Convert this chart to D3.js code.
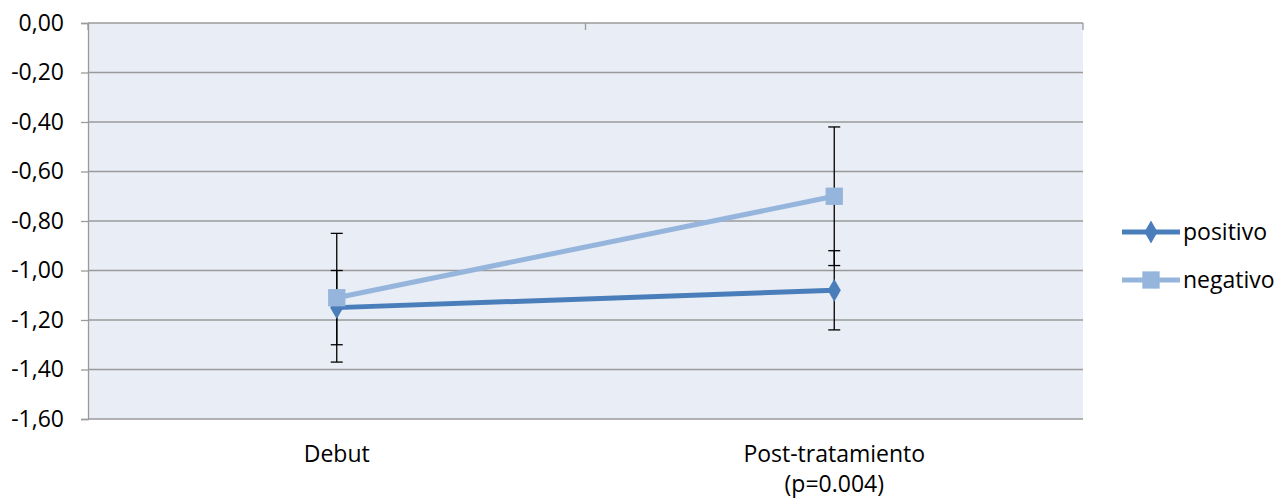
<!DOCTYPE html>
<html>
<head>
<meta charset="utf-8">
<script src="https://cdn.jsdelivr.net/npm/d3@7"></script>
<style>
  body { margin: 0; background: #fff; }
  svg { display: block; font-family: "Open Sans", sans-serif; }
</style>
</head>
<body>
<svg width="1286" height="500"></svg>
<script>
// data
var categories = ["Debut", "Post-tratamiento\n(p=0.004)"];
var seriesNames = ["positivo", "negativo"];
var positivo = [-1.15, -1.08];
var negativo = [-1.11, -0.70];
var positivoErr = [0.15, 0.16];
var negativoErr = [0.26, 0.28];
var yTicks = [0, -0.2, -0.4, -0.6, -0.8, -1.0, -1.2, -1.4, -1.6];

var svg = d3.select("svg");
var margin = { left: 88, top: 23, right: 203, bottom: 81 };
var width = 1286 - margin.left - margin.right,
  height = 500 - margin.top - margin.bottom;
var fontSize = 23;

var colors = { positivo: "#4a7ebb", negativo: "#95b5dc" };

var x = d3.scaleBand().domain(d3.range(categories.length)).range([0, width]);
var y = d3.scaleLinear().domain([-1.6, 0]).range([height, 0]);

var g = svg.append("g").attr("transform", "translate(" + margin.left + "," + margin.top + ")");

// plot background
g.append("rect").attr("width", width).attr("height", height).attr("fill", "#e9edf5");

// gridlines
g.append("g").selectAll("line")
  .data(yTicks.filter(d => d !== 0))
  .enter().append("line")
  .attr("x1", 0).attr("x2", width)
  .attr("y1", d => y(d)).attr("y2", d => y(d))
  .attr("stroke", "#9a9a9a").attr("stroke-width", 1.3);

// y axis
var yAxis = g.append("g")
  .call(d3.axisLeft(y).tickValues(yTicks).tickSize(7).tickPadding(17)
    .tickFormat(d => d3.format(".2f")(d).replace(".", ",").replace("−", "-")));
yAxis.select(".domain").attr("stroke", "#9a9a9a").attr("stroke-width", 1.3);
yAxis.selectAll(".tick line").attr("stroke", "#9a9a9a").attr("stroke-width", 1.3);
yAxis.selectAll("text").attr("font-size", fontSize).attr("fill", "#000").attr("font-family", "Open Sans");

// category axis crosses at 0 (top), ticks inward
g.append("line").attr("x1", 0).attr("x2", width).attr("y1", 0).attr("y2", 0)
  .attr("stroke", "#9a9a9a").attr("stroke-width", 1.3);
g.append("g").selectAll("line")
  .data(d3.range(categories.length + 1))
  .enter().append("line")
  .attr("x1", d => d * x.bandwidth()).attr("x2", d => d * x.bandwidth())
  .attr("y1", 0).attr("y2", 7)
  .attr("stroke", "#9a9a9a").attr("stroke-width", 1.3);

// category labels at the bottom
var catLabel = g.append("g").selectAll("text")
  .data(categories)
  .enter().append("text")
  .attr("text-anchor", "middle")
  .attr("font-size", fontSize)
  .attr("transform", (d, i) => "translate(" + (x(i) + x.bandwidth() / 2) + "," + (height + 43) + ")");
catLabel.selectAll("tspan")
  .data(d => d.split("\n"))
  .enter().append("tspan")
  .attr("x", 0).attr("dy", (d, i) => i === 0 ? 0 : 30)
  .text(d => d);

var cx = i => x(i) + x.bandwidth() / 2;
var series = [
  { name: "positivo", values: positivo, err: positivoErr, marker: d3.symbolDiamond, size: 150 },
  { name: "negativo", values: negativo, err: negativoErr, marker: d3.symbolSquare, size: 300 }
];

var line = d3.line().x((d, i) => cx(i)).y(d => y(d));

series.forEach(function (s) {
  // error bars
  var eb = g.append("g").attr("stroke", "#000").attr("stroke-width", 1.3);
  s.values.forEach(function (v, i) {
    eb.append("line").attr("x1", cx(i)).attr("x2", cx(i))
      .attr("y1", y(v + s.err[i])).attr("y2", y(v - s.err[i]));
    [v + s.err[i], v - s.err[i]].forEach(function (e) {
      eb.append("line").attr("x1", cx(i) - 6).attr("x2", cx(i) + 6)
        .attr("y1", y(e)).attr("y2", y(e));
    });
  });
});

series.forEach(function (s) {
  g.append("path").datum(s.values)
    .attr("d", line)
    .attr("fill", "none")
    .attr("stroke", colors[s.name])
    .attr("stroke-width", 5);
  g.append("g").selectAll("path")
    .data(s.values)
    .enter().append("path")
    .attr("d", d3.symbol().type(s.marker).size(s.size))
    .attr("transform", (d, i) => "translate(" + cx(i) + "," + y(d) + ")")
    .attr("fill", colors[s.name]);
});

// legend
var legend = svg.append("g").attr("transform", "translate(1122,232)");
series.forEach(function (s, i) {
  var lg = legend.append("g").attr("transform", "translate(0," + (i * 48) + ")");
  lg.append("line").attr("x1", 0).attr("x2", 58).attr("y1", 0).attr("y2", 0)
    .attr("stroke", colors[s.name]).attr("stroke-width", 5);
  lg.append("path").attr("d", d3.symbol().type(s.marker).size(s.size))
    .attr("transform", "translate(29,0)").attr("fill", colors[s.name]);
  lg.append("text").attr("x", 61).attr("y", 0).attr("dy", "0.35em")
    .attr("font-size", fontSize).text(s.name);
});
</script>
</body>
</html>
